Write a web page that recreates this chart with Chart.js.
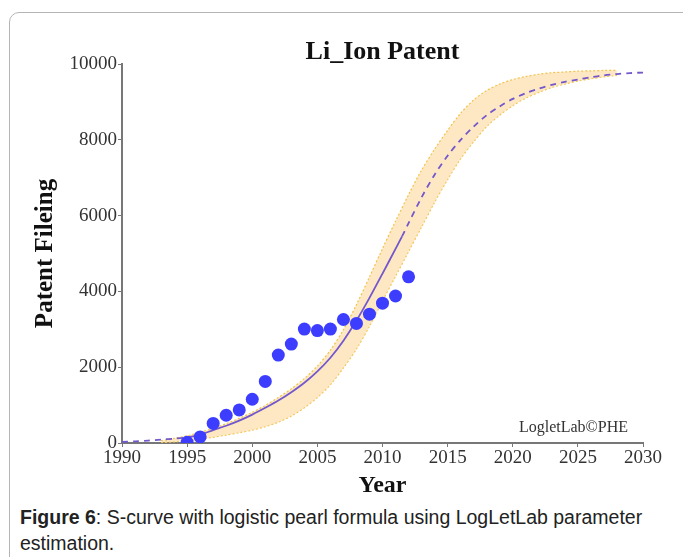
<!DOCTYPE html>
<html>
<head>
<meta charset="utf-8">
<script src="https://cdn.jsdelivr.net/npm/chart.js@4/dist/chart.umd.min.js"></script>
<style>
  body { margin: 0; background: #fff; width: 683px; height: 557px; overflow: hidden; }
  #box { position: absolute; left: 9px; top: 12px; width: 700px; height: 600px;
         border: 1px solid #b5b5b5; border-radius: 10px; }
  #chart { position: absolute; left: 9px; top: 12px; }
  #caption { position: absolute; left: 20px; top: 504px; width: 660px;
             font: 19.5px "Liberation Sans", Arial, sans-serif; line-height: 26px; color: #222; }
</style>
</head>
<body>
<div id="box"></div>
<canvas id="chart" width="674" height="490"></canvas>
<div id="caption"><b>Figure 6</b>: S-curve with logistic pearl formula using LogLetLab parameter<br>estimation.</div>
<script>
// observed patent filings
const dotYears = [1995, 1996, 1997, 1998, 1999, 2000, 2001, 2002, 2003, 2004, 2005, 2006, 2007, 2008, 2009, 2010, 2011, 2012];
const filings = [20, 160, 516, 732, 873, 1155, 1624, 2319, 2610, 3005, 2967, 3005, 3258, 3155, 3399, 3690, 3878, 4385];

// fitted logistic curve (solid 1995 - 2011.5, dashed elsewhere)
const curveYears = [1990, 1991, 1992, 1993, 1994, 1995, 1996, 1997, 1998, 1999, 2000, 2001, 2002, 2003, 2004, 2005,
  2006, 2007, 2008, 2009, 2010, 2011, 2011.5, 2012, 2013, 2014, 2015, 2016, 2017, 2018, 2019, 2020, 2021, 2022,
  2023, 2024, 2025, 2026, 2027, 2028, 2029, 2030];
const curveVals = [30, 45, 65, 90, 115, 150, 220, 340, 455, 590, 750, 930, 1120, 1340, 1590, 1890,
  2250, 2700, 3230, 3830, 4470, 5120, 5450, 5800, 6480, 7080, 7580, 8000, 8350, 8650, 8880, 9080, 9230, 9350,
  9450, 9530, 9590, 9650, 9700, 9735, 9760, 9775];
const solidFrom = 1995;
const solidTo = 2011.5;

// confidence band
const bandYears = [1993, 1994, 1995, 1996, 1997, 1998, 1999, 2000, 2001, 2002, 2003, 2004, 2005, 2006, 2007, 2008,
  2009, 2010, 2011, 2012, 2013, 2014, 2015, 2016, 2017, 2018, 2019, 2020, 2021, 2022, 2023, 2024, 2025, 2026, 2027, 2028];
const bandUpper = [60, 120, 190, 280, 390, 510, 650, 810, 990, 1200, 1430, 1700, 2030, 2450, 2990, 3650,
  4380, 5130, 5850, 6550, 7200, 7750, 8250, 8700, 9050, 9300, 9470, 9590, 9670, 9730, 9770, 9790, 9810, 9820, 9830, 9830];
const bandLower = [10, 30, 60, 100, 150, 210, 270, 340, 430, 550, 710, 930, 1200, 1540, 1980, 2480,
  3080, 3750, 4400, 5050, 5700, 6350, 6950, 7500, 7950, 8350, 8650, 8900, 9100, 9250, 9380, 9470, 9550, 9610, 9660, 9700];

const xTicks = [1990, 1995, 2000, 2005, 2010, 2015, 2020, 2025, 2030];
const yTicks = [0, 2000, 4000, 6000, 8000, 10000];

const pts = (xs, ys) => xs.map((x, i) => ({ x: x, y: ys[i] }));
const serif = '"Liberation Serif", "Times New Roman", serif';

const watermark = {
  id: "watermark",
  afterDraw(chart) {
    const c = chart.ctx, a = chart.chartArea;
    c.save();
    c.font = "16px " + serif;
    c.fillStyle = "#333";
    c.textAlign = "right";
    c.textBaseline = "middle";
    c.fillText("LogletLab\u00A9PHE", a.right - 15, a.bottom - 15);
    c.restore();
  }
};

new Chart(document.getElementById("chart"), {
  type: "line",
  data: {
    datasets: [
      {
        data: pts(bandYears, bandUpper),
        borderColor: "#f2c24a",
        borderWidth: 1.2,
        borderDash: [2, 2],
        backgroundColor: "rgba(253, 214, 145, 0.55)",
        fill: "+1",
        pointRadius: 0,
        tension: 0.3,
        order: 3
      },
      {
        data: pts(bandYears, bandLower),
        borderColor: "#f2c24a",
        borderWidth: 1.2,
        borderDash: [2, 2],
        fill: false,
        pointRadius: 0,
        tension: 0.3,
        order: 4
      },
      {
        data: pts(curveYears, curveVals),
        borderColor: "#7358cc",
        borderWidth: 1.8,
        fill: false,
        pointRadius: 0,
        tension: 0.3,
        segment: {
          borderDash: ctx => (ctx.p0.parsed.x < solidFrom || ctx.p0.parsed.x >= solidTo) ? [6, 5] : undefined
        },
        order: 2
      },
      {
        data: pts(dotYears, filings),
        showLine: false,
        pointRadius: 6.5,
        pointBackgroundColor: "#3d3dff",
        pointBorderWidth: 0,
        order: 1
      }
    ]
  },
  options: {
    responsive: false,
    devicePixelRatio: 1,
    animation: false,
    layout: { padding: { left: 0, right: 40, top: 0, bottom: 0 } },
    plugins: {
      legend: { display: false },
      tooltip: { enabled: false },
      title: {
        display: true,
        fullSize: false,
        text: "Li_Ion Patent",
        color: "#111",
        font: { family: serif, size: 26, weight: "bold", lineHeight: 1 },
        padding: { top: 27, bottom: -1 }
      }
    },
    scales: {
      x: {
        type: "linear",
        min: 1990,
        max: 2030,
        afterBuildTicks: s => { s.ticks = xTicks.map(v => ({ value: v })); },
        afterFit: s => { s.height = 59; },
        ticks: { callback: v => String(v), color: "#333", padding: 0, maxRotation: 0,
                 font: { family: serif, size: 19 } },
        grid: { drawOnChartArea: false, tickLength: 4, color: "#777" },
        border: { color: "#777", width: 2 },
        title: { display: true, text: "Year", color: "#111",
                 font: { family: serif, size: 24, weight: "bold", lineHeight: 1.2 }, padding: { top: 0, bottom: 2 } }
      },
      y: {
        min: 0,
        max: 10000,
        afterBuildTicks: s => { s.ticks = yTicks.map(v => ({ value: v })); },
        afterFit: s => { s.width = 113; },
        ticks: { callback: v => String(v), color: "#333", padding: 1,
                 font: { family: serif, size: 19 } },
        grid: { drawOnChartArea: false, tickLength: 4, color: "#777" },
        border: { color: "#777", width: 2 },
        title: { display: true, text: "Patent Fileing", color: "#111",
                 font: { family: serif, size: 25, weight: "bold", lineHeight: 1.2 }, padding: { top: 22, bottom: 0 } }
      }
    }
  },
  plugins: [watermark]
});
</script>
</body>
</html>
